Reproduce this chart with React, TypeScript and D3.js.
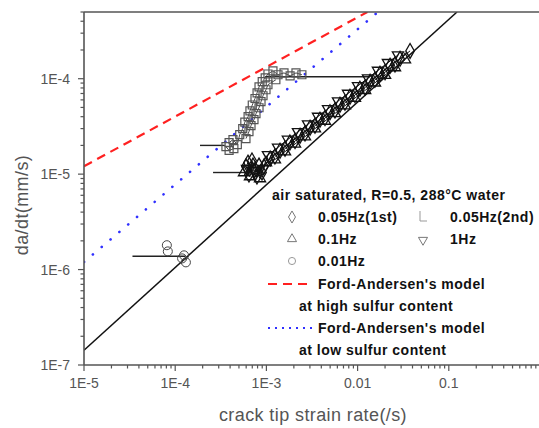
import React from "react";
import * as d3 from "d3";

// axes
const xDomain = [1e-5, 1];
const yDomain = [1e-7, 5e-4];
const xTickLabels = ["1E-5", "1E-4", "1E-3", "0.01", "0.1"];
const yTickLabels = ["1E-7", "1E-6", "1E-5", "1E-4"];

// model lines (end points)
const airLine = [[1e-5, 1.43e-7], [0.123, 5e-4]];
const highSulfur = [[1e-5, 1.21e-5], [0.0128, 5e-4]];
const lowSulfur = [[1e-5, 1.2e-6], [0.0167, 5e-4]];

// flat lead-in segments of the data
const flatLines = [
  [[3.4e-5, 1.38e-6], [1.3e-4, 1.38e-6]],
  [[1.87e-4, 2.0e-5], [3.5e-4, 2.0e-5]],
  [[2.6e-4, 1.04e-5], [5.8e-4, 1.04e-5]],
  [[9.7e-4, 1.05e-4], [1.37e-2, 1.05e-4]],
];

// 0.01Hz
const hz001 = [[8.1e-5, 1.8e-6], [8.3e-5, 1.55e-6], [1.19e-4, 1.31e-6], [1.25e-4, 1.41e-6], [1.31e-4, 1.19e-6]];

// 0.05Hz (2nd)
const hz005b = [
  [3.6e-4, 1.94e-5], [3.9e-4, 1.77e-5], [4.4e-4, 1.85e-5], [3.9e-4, 2.14e-5], [4.3e-4, 2.3e-5], [4.8e-4, 2.04e-5],
  [5.1e-4, 2.6e-5], [5.5e-4, 3.0e-5], [5.8e-4, 3.5e-5], [6.3e-4, 4.0e-5], [6.6e-4, 4.6e-5], [7.0e-4, 5.3e-5],
  [7.5e-4, 6.2e-5], [7.9e-4, 7.1e-5], [8.3e-4, 8.2e-5], [9.0e-4, 9.3e-5], [9.7e-4, 1.02e-4], [1.04e-3, 1.12e-4],
  [1.18e-3, 1.21e-4], [1.34e-3, 1.1e-4], [1.56e-3, 1.15e-4], [1.82e-3, 1.07e-4], [2.11e-3, 1.15e-4], [2.45e-3, 1.1e-4],
];
const hz005bRun2 = [
  [5.97e-4, 2.36e-5], [6.44e-4, 2.79e-5], [6.78e-4, 3.22e-5], [7.31e-4, 3.72e-5], [7.69e-4, 4.3e-5], [8.3e-4, 4.96e-5],
  [8.73e-4, 5.74e-5], [9.18e-4, 6.63e-5], [9.9e-4, 7.66e-5], [1.04e-3, 8.64e-5], [1.27e-3, 9.75e-5],
];

// 0.05Hz (1st)
const hz005a = [
  [5.97e-4, 1.2e-5], [6.28e-4, 1.32e-5], [6.44e-4, 9.9e-6], [6.95e-4, 1.39e-5], [7.31e-4, 1.09e-5], [7.88e-4, 9.44e-6],
  [8.3e-4, 1.23e-5], [8.95e-4, 1.04e-5], [9.41e-4, 1.2e-5],
  [1.1e-3, 1.46e-5], [1.41e-3, 1.76e-5], [1.81e-3, 2.14e-5], [2.34e-3, 2.53e-5], [3.01e-3, 3.07e-5], [3.87e-3, 3.72e-5],
  [4.98e-3, 4.46e-5], [6.41e-3, 5.34e-5], [8.25e-3, 6.47e-5], [1.06e-2, 7.84e-5], [1.37e-2, 9.28e-5], [1.76e-2, 1.125e-4],
  [2.27e-2, 1.364e-4], [2.92e-2, 1.614e-4], [3.76e-2, 1.956e-4],
];
const hz005aRun2 = [
  [1.24e-3, 1.53e-5], [1.6e-3, 1.85e-5], [2.06e-3, 2.22e-5], [2.65e-3, 2.66e-5], [3.41e-3, 3.22e-5], [4.39e-3, 3.87e-5],
  [5.65e-3, 4.65e-5], [7.27e-3, 5.6e-5], [9.36e-3, 6.74e-5], [1.21e-2, 8.11e-5], [1.55e-2, 9.74e-5], [2.0e-2, 1.17e-4],
  [2.57e-2, 1.41e-4],
];

// 0.1Hz
const hz01 = [
  [5.68e-4, 1.04e-5], [6.61e-4, 9.44e-6], [7.13e-4, 1.26e-5], [8.51e-4, 9.0e-6], [9.9e-4, 1.32e-5],
  [1.24e-3, 1.42e-5], [1.6e-3, 1.72e-5], [2.06e-3, 2.07e-5], [2.65e-3, 2.47e-5], [3.41e-3, 3.0e-5], [4.39e-3, 3.6e-5],
  [5.65e-3, 4.33e-5], [7.27e-3, 5.21e-5], [9.36e-3, 6.27e-5], [1.21e-2, 7.55e-5], [1.55e-2, 9.06e-5], [2.0e-2, 1.09e-4],
  [2.57e-2, 1.31e-4], [3.31e-2, 1.58e-4],
];

// 1Hz
const hz1 = [
  [6.13e-4, 1.14e-5], [7.69e-4, 1.09e-5], [9.18e-4, 1.14e-5],
  [1.04e-3, 1.59e-5], [1.34e-3, 1.91e-5], [1.72e-3, 2.31e-5], [2.22e-3, 2.77e-5], [2.86e-3, 3.34e-5], [3.68e-3, 4.02e-5],
  [4.74e-3, 4.84e-5], [6.1e-3, 5.82e-5], [7.85e-3, 7.0e-5], [1.01e-2, 8.43e-5], [1.3e-2, 1.015e-4], [1.67e-2, 1.22e-4],
  [2.15e-2, 1.47e-4], [2.77e-2, 1.77e-4],
];

const FONT = "'Liberation Sans', Arial, sans-serif";

const isDecade = (v: number) => Math.abs(Math.log10(v) - Math.round(Math.log10(v))) < 1e-6;

export default function App() {
  const width = 539;
  const height = 428;
  const left = 84, right = 540, top = 12, bottom = 365;

  const x = d3.scaleLog().domain(xDomain).range([left, right]);
  const y = d3.scaleLog().domain(yDomain).range([bottom, top]);
  const line = d3.line<number[]>().x((d) => x(d[0])).y((d) => y(d[1]));

  const diamond = d3.symbol().type(d3.symbolDiamond).size(64)()!;
  const triangle = d3.symbol().type(d3.symbolTriangle).size(54)()!;
  const square = d3.symbol().type(d3.symbolSquare).size(64)()!;
  const circle = d3.symbol().type(d3.symbolCircle).size(64)()!;
  const legDiamond = d3.symbol().type(d3.symbolDiamond).size(42)()!;
  const legTriangle = d3.symbol().type(d3.symbolTriangle).size(36)()!;

  const xTicks = x.ticks().filter((t) => t <= 1);
  const yTicks = y.ticks();

  const markers = (pts: number[][], path: string, stroke: string, key: string, sw = 1, rot = 0) =>
    pts.map((d, i) => (
      <path
        key={key + i}
        d={path}
        transform={`translate(${x(d[0])},${y(d[1])})${rot ? ` rotate(${rot})` : ""}`}
        fill="none"
        stroke={stroke}
        strokeWidth={sw}
      />
    ));

  const legendX1 = 292, legendT1 = 318, legendX2 = 423, legendT2 = 450;
  const legendText = { fontFamily: FONT, fontSize: 14, fontWeight: "bold", fill: "#111", letterSpacing: 0.5 } as const;

  return (
    <svg width={width} height={height} style={{ position: "absolute", left: 0, top: 0, background: "#fff" }}>
      <defs>
        <clipPath id="plot">
          <rect x={left} y={top} width={right - left} height={bottom - top} />
        </clipPath>
      </defs>

      <g clipPath="url(#plot)">
        <path d={line(highSulfur)!} stroke="#ff2020" strokeWidth={2.2} strokeDasharray="9 6" fill="none" />
        <path d={line(lowSulfur)!} stroke="#3030ff" strokeWidth={2.6} strokeDasharray="0.1 11.5" strokeLinecap="round" fill="none" />
        <path d={line(airLine)!} stroke="#111" strokeWidth={1.5} fill="none" />

        {flatLines.map((s, i) => (
          <path key={"f" + i} d={line(s)!} stroke="#222" strokeWidth={1.4} fill="none" />
        ))}

        {[hz005b, hz005bRun2].map((s, i) => (
          <path key={"lb" + i} d={line(s)!} stroke="#333" strokeWidth={0.9} fill="none" />
        ))}
        {[hz005a, hz005aRun2, hz01, hz1].map((s, i) => (
          <path key={"la" + i} d={line(s)!} stroke="#111" strokeWidth={1} fill="none" />
        ))}

        {markers(hz005b, square, "#555", "s", 1.2)}
        {markers(hz005bRun2, square, "#555", "s2", 1.2)}
        {markers(hz005a, diamond, "#111", "d", 1.3)}
        {markers(hz005aRun2, diamond, "#111", "d2", 1.3)}
        {markers(hz01, triangle, "#111", "t", 1.3)}
        {markers(hz1, triangle, "#111", "v", 1.3, 180)}
        {markers(hz001, circle, "#444", "c")}
      </g>

      {/* axes */}
      <line x1={left} x2={right} y1={bottom} y2={bottom} stroke="#555" strokeWidth={1.6} />
      <line x1={left} x2={left} y1={top} y2={bottom} stroke="#555" strokeWidth={1.6} />
      <line x1={left} x2={right} y1={top} y2={top} stroke="#555" strokeWidth={1.4} />

      {xTicks.map((t, i) => (
        <line key={"xt" + i} x1={x(t)} x2={x(t)} y1={bottom} y2={bottom + (isDecade(t) ? 6 : 3.5)} stroke="#555" strokeWidth={1.2} />
      ))}
      {xTicks.filter(isDecade).map((t, i) =>
        xTickLabels[i] ? (
          <text key={"xl" + i} x={x(t)} y={bottom + 23} textAnchor="middle" fontFamily={FONT} fontSize={14} fill="#555">
            {xTickLabels[i]}
          </text>
        ) : null
      )}

      {yTicks.map((t, i) => (
        <line key={"yt" + i} x1={left - (isDecade(t) ? 6 : 3.5)} x2={left} y1={y(t)} y2={y(t)} stroke="#555" strokeWidth={1.2} />
      ))}
      {yTicks.filter(isDecade).map((t, i) => (
        <text key={"yl" + i} x={left - 14} y={y(t) + 5} textAnchor="end" fontFamily={FONT} fontSize={14} fill="#555">
          {yTickLabels[i]}
        </text>
      ))}

      <text x={313} y={421} textAnchor="middle" fontFamily={FONT} fontSize={18} fill="#555" letterSpacing={0.4}>
        crack tip strain rate(/s)
      </text>
      <text transform="translate(28,205) rotate(-90)" textAnchor="middle" fontFamily={FONT} fontSize={18} fill="#555" letterSpacing={0.4}>
        da/dt(mm/s)
      </text>

      {/* legend */}
      <text x={272} y={200} {...legendText}>
        air saturated, R=0.5, 288°C water
      </text>
      <path d={legDiamond} transform={`translate(${legendX1},217)`} fill="none" stroke="#777" />
      <text x={legendT1} y={222} {...legendText}>0.05Hz(1st)</text>
      <path d={`M${legendX2 - 3},211 V221 H${legendX2 + 4}`} fill="none" stroke="#999" />
      <text x={legendT2} y={222} {...legendText}>0.05Hz(2nd)</text>

      <path d={legTriangle} transform={`translate(${legendX1},239)`} fill="none" stroke="#777" />
      <text x={legendT1} y={244} {...legendText}>0.1Hz</text>
      <path d={legTriangle} transform={`translate(${legendX2},240) rotate(180)`} fill="none" stroke="#777" />
      <text x={legendT2} y={244} {...legendText}>1Hz</text>

      <path d={d3.symbol().type(d3.symbolCircle).size(40)()!} transform={`translate(${legendX1},261)`} fill="none" stroke="#999" />
      <text x={legendT1} y={266} {...legendText}>0.01Hz</text>

      <line x1={268} x2={313} y1={284} y2={284} stroke="#ff2020" strokeWidth={2} strokeDasharray="9 6" />
      <text x={legendT1} y={289} {...legendText}>Ford-Andersen's model</text>
      <text x={299} y={311} {...legendText}>at high sulfur content</text>

      <line x1={268} x2={313} y1={328} y2={328} stroke="#3030ff" strokeWidth={2} strokeDasharray="2 5" />
      <text x={legendT1} y={333} {...legendText}>Ford-Andersen's model</text>
      <text x={299} y={355} {...legendText}>at low sulfur content</text>
    </svg>
  );
}
